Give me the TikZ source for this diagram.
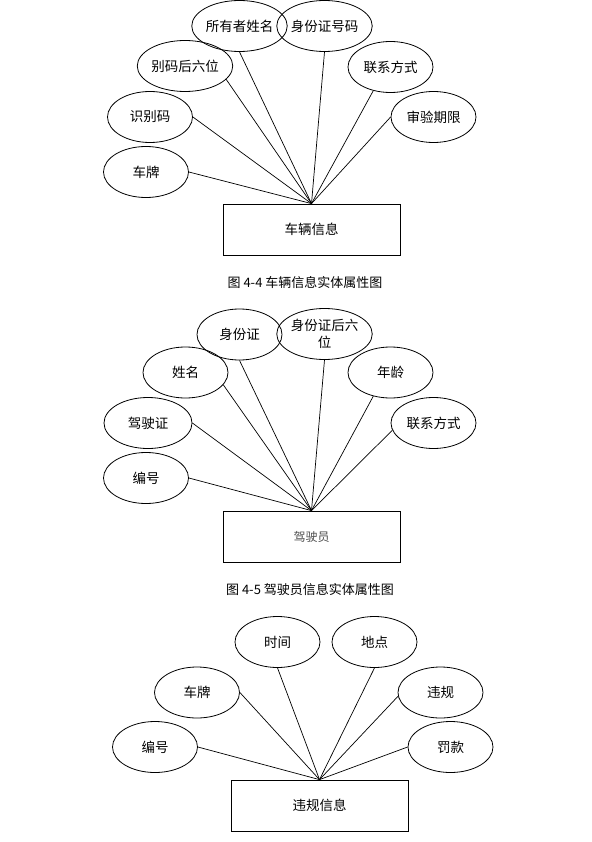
\documentclass[tikz,border=0pt]{standalone}
\usepackage{fontspec}
\setmainfont{Noto Sans CJK SC}
\usetikzlibrary{shapes.geometric}
\begin{document}
\begin{tikzpicture}[x=1pt,y=-1pt,
  attr/.style={draw, ellipse, minimum width=85pt, minimum height=51pt, inner sep=0pt,
    font=\fontsize{13.5}{17}\selectfont, line width=0.8pt, align=center},
  ent/.style={draw, rectangle, minimum width=177pt, minimum height=51pt, inner sep=0pt,
    font=\fontsize{13.5}{17}\selectfont, line width=0.8pt},
  conn/.style={line width=0.7pt},
  captxt/.style={font=\fontsize{13}{15}\selectfont}]
\useasboundingbox (0,0) rectangle (591,842);
\fill[white] (0,0) rectangle (591,842);

% ---------- Figure 4-4 ----------
\node[ent] (e1) at (311.5,229.5) {车辆信息};
\node[attr] (a11) at (146,172) {车牌};
\node[attr] (a12) at (150,117) {识别码};
\node[attr] (a13) at (185,66) {别码后六位};
\node[attr] (a14) at (239.5,26) {所有者姓名};
\node[attr] (a15) at (324.5,26) {身份证号码};
\node[attr] (a16) at (390.5,67) {联系方式};
\node[attr] (a17) at (433.5,117) {审验期限};
\foreach \a/\ang in {a11/0,a12/0,a13/-18,a14/-90,a15/-90,a16/-126,a17/180}
  \draw[conn] (e1.north) -- (\a.\ang);
\node[captxt] (c1) at (305,283) {图 4-4 车辆信息实体属性图};

% ---------- Figure 4-5 ----------
\node[ent, font=\fontsize{12}{14}\selectfont, text=black!70] (e2) at (311.5,536.5) {驾驶员};
\node[attr] (a21) at (146,478) {编号};
\node[attr, minimum width=88pt] (a22) at (148,423) {驾驶证};
\node[attr] (a23) at (185.5,372.5) {姓名};
\node[attr] (a24) at (239.5,334.5) {身份证};
\node[attr] (a25) at (324.5,334) {身份证后六\\位};
\node[attr] (a26) at (390.5,372.5) {年龄};
\node[attr] (a27) at (433.5,423) {联系方式};
\foreach \a/\ang in {a21/0,a22/0,a23/-18,a24/-90,a25/-90,a26/-126,a27/190}
  \draw[conn] (e2.north) -- (\a.\ang);
\node[captxt] (c2) at (310,590) {图 4-5 驾驶员信息实体属性图};

% ---------- Violation ----------
\node[ent] (e3) at (319.5,805.5) {违规信息};
\node[attr] (a31) at (155,747) {编号};
\node[attr] (a32) at (197,692.5) {车牌};
\node[attr] (a33) at (277.5,642) {时间};
\node[attr] (a34) at (374.5,642) {地点};
\node[attr] (a35) at (440.5,692.5) {违规};
\node[attr] (a36) at (450.5,747) {罚款};
\foreach \a/\ang in {a31/0,a32/0,a33/-90,a34/-90,a35/185,a36/180}
  \draw[conn] (e3.north) -- (\a.\ang);
\end{tikzpicture}
\end{document}
